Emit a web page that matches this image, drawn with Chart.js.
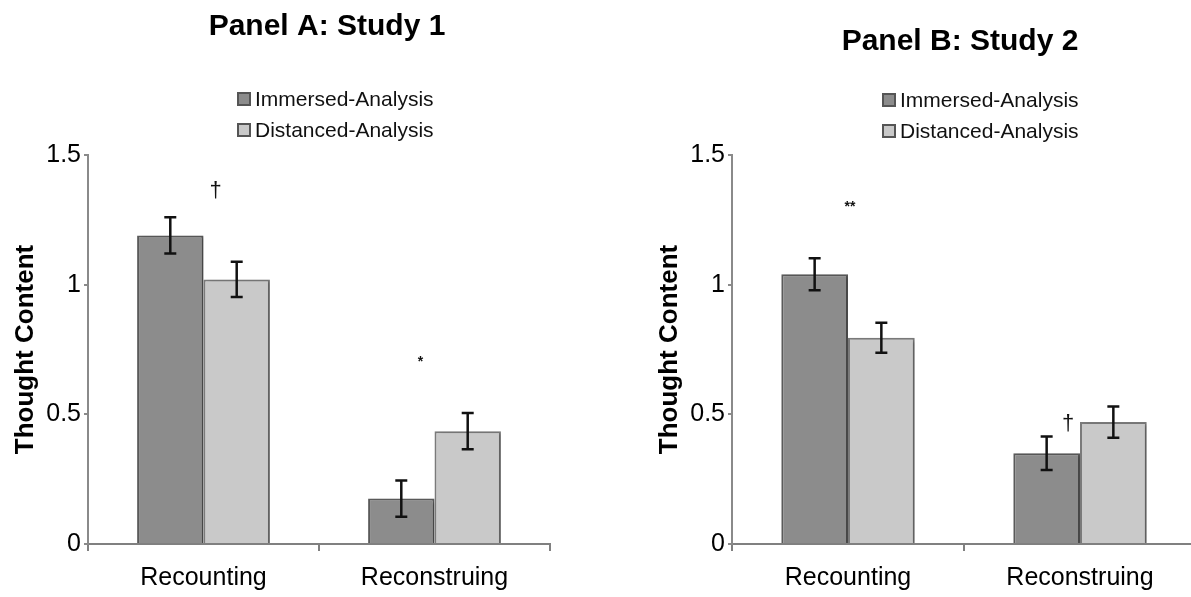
<!DOCTYPE html>
<html>
<head>
<meta charset="utf-8">
<script src="https://cdn.jsdelivr.net/npm/chart.js@4"></script>
<style>
  html, body { margin: 0; padding: 0; background: #fff; overflow: hidden; }
  #wrap { position: relative; width: 1191px; height: 597px; }
  #panelA { position: absolute; left: 0; top: 0; }
  #panelB { position: absolute; left: 595px; top: 0; }
</style>
</head>
<body>
<div id="wrap">
  <canvas id="panelA" width="595" height="597"></canvas>
  <canvas id="panelB" width="605" height="597"></canvas>
</div>
<script>
const labels = ["Recounting", "Reconstruing"];
const series_names = ["Immersed-Analysis", "Distanced-Analysis"];

const study1_immersed = [1.19, 0.175];
const study1_distanced = [1.02, 0.435];
const study1_immersed_err = [0.07, 0.07];
const study1_distanced_err = [0.068, 0.07];

const study2_immersed = [1.04, 0.35];
const study2_distanced = [0.795, 0.47];
const study2_immersed_err = [0.062, 0.065];
const study2_distanced_err = [0.058, 0.06];

const y_ticks = [0, 0.5, 1, 1.5];

// significance marks: [category index, y value, text]
const study1_marks = [[0, 1.36, "\u2020"], [1, 0.703, "*"]];
const study2_marks = [[0, 1.30, "**"], [1, 0.463, "\u2020"]];

const FONT = "'Liberation Sans', Arial, Helvetica, sans-serif";
const dark_fill = "#8c8c8c";
const light_fill = "#c9c9c9";

// draws the error bars from dataset.errors
const error_bars = {
    id: "error_bars",
    afterDatasetsDraw(chart) {
        const ctx = chart.ctx;
        const y = chart.scales.y;
        ctx.save();
        ctx.strokeStyle = "#111";
        ctx.lineWidth = 2.5;
        chart.data.datasets.forEach((ds, i) => {
            const meta = chart.getDatasetMeta(i);
            meta.data.forEach((bar, j) => {
                const v = ds.data[j];
                const e = ds.errors[j];
                const top = y.getPixelForValue(v + e);
                const bot = y.getPixelForValue(v - e);
                const x = bar.x;
                ctx.beginPath();
                ctx.moveTo(x, top); ctx.lineTo(x, bot);
                ctx.moveTo(x - 6, top); ctx.lineTo(x + 6, top);
                ctx.moveTo(x - 6, bot); ctx.lineTo(x + 6, bot);
                ctx.stroke();
            });
        });
        ctx.restore();
    }
};

// soft shadow behind the bars
const bar_shadow = {
    id: "bar_shadow",
    beforeDatasetsDraw(chart) {
        const ctx = chart.ctx;
        ctx.save();
        ctx.shadowColor = "rgba(0,0,0,0.22)";
        ctx.shadowOffsetX = 3;
        ctx.shadowOffsetY = 1;
        ctx.shadowBlur = 3;
    },
    afterDatasetsDraw(chart) {
        chart.ctx.restore();
    }
};

// significance marks above the bar pairs
const sig_marks = {
    id: "sig_marks",
    afterDraw(chart, args, opts) {
        const ctx = chart.ctx;
        const x = chart.scales.x;
        const y = chart.scales.y;
        ctx.save();
        ctx.fillStyle = "#111";
        ctx.textAlign = "center";
        ctx.textBaseline = "middle";
        opts.marks.forEach((m, k) => {
            const px = x.getPixelForValue(m[0]) + opts.dx[k];
            const py = y.getPixelForValue(m[1]);
            ctx.font = (m[2] === "\u2020" ? "22px " : "bold 14px ") + FONT;
            ctx.fillText(m[2], px, py);
        });
        ctx.restore();
    }
};

// panel heading
const panel_title = {
    id: "panel_title",
    afterDraw(chart, args, opts) {
        const ctx = chart.ctx;
        ctx.save();
        ctx.font = "bold 30px " + FONT;
        ctx.fillStyle = "#000";
        ctx.textAlign = "center";
        ctx.textBaseline = "middle";
        ctx.fillText(opts.text, opts.x, opts.y);
        ctx.restore();
    }
};

// stacked legend box
const box_legend = {
    id: "box_legend",
    afterDraw(chart, args, opts) {
        const ctx = chart.ctx;
        ctx.save();
        ctx.font = "21px " + FONT;
        ctx.textBaseline = "middle";
        chart.data.datasets.forEach((ds, i) => {
            const cy = opts.y + i * opts.gap;
            ctx.fillStyle = ds.backgroundColor;
            ctx.strokeStyle = "#555";
            ctx.lineWidth = 2;
            ctx.fillRect(opts.x, cy - 6, 12, 12);
            ctx.strokeRect(opts.x, cy - 6, 12, 12);
            ctx.fillStyle = "#111";
            ctx.fillText(ds.label, opts.x + 17, cy + 1);
        });
        ctx.restore();
    }
};

function make_panel(canvas_id, title, title_x, title_y, pad_left, pad_right, imm, imm_err, dist, dist_err, marks, mark_dx, legend_x, legend_y) {
    return new Chart(document.getElementById(canvas_id), {
        type: "bar",
        data: {
            labels: labels,
            datasets: [{
                label: series_names[0],
                data: imm,
                errors: imm_err,
                backgroundColor: dark_fill,
                borderColor: "#5a5a5a",
                borderWidth: 2
            }, {
                label: series_names[1],
                data: dist,
                errors: dist_err,
                backgroundColor: light_fill,
                borderColor: "#7a7a7a",
                borderWidth: 2
            }]
        },
        options: {
            responsive: false,
            animation: false,
            layout: { padding: { left: pad_left, right: pad_right, top: 155, bottom: 0 } },
            categoryPercentage: 0.575,
            barPercentage: 1.0,
            plugins: {
                legend: { display: false },
                tooltip: { enabled: false },
                panel_title: { text: title, x: title_x, y: title_y },
                sig_marks: { marks: marks, dx: mark_dx },
                box_legend: { x: legend_x, y: legend_y, gap: 31 }
            },
            scales: {
                x: {
                    afterFit: (s) => { s.height = 53; },
                    grid: {
                        display: true,
                        offset: true,
                        drawOnChartArea: false,
                        tickLength: 7,
                        color: "#808080",
                        lineWidth: 2
                    },
                    border: { color: "#808080", width: 2 },
                    ticks: { color: "#000", padding: 12, font: { family: FONT, size: 25 } }
                },
                y: {
                    min: 0,
                    max: 1.5,
                    afterFit: (s) => { s.width = 88; },
                    afterBuildTicks: (s) => { s.ticks = y_ticks.map(v => ({ value: v })); },
                    grid: {
                        drawOnChartArea: false,
                        tickLength: 4,
                        color: "#8a8a8a",
                        lineWidth: 2
                    },
                    border: { color: "#8a8a8a", width: 2 },
                    ticks: {
                        color: "#000",
                        padding: 3,
                        font: { family: FONT, size: 25 },
                        callback: (v) => String(v)
                    },
                    title: {
                        display: true,
                        text: "Thought Content",
                        color: "#000",
                        padding: { top: 10, bottom: 0 },
                        font: { family: FONT, size: 26, weight: "bold" }
                    }
                }
            }
        },
        plugins: [bar_shadow, error_bars, sig_marks, panel_title, box_legend]
    });
}

make_panel("panelA", "Panel A: Study 1", 327, 27, 0, 45,
    study1_immersed, study1_immersed_err, study1_distanced, study1_distanced_err,
    study1_marks, [12, -14], 238, 99);

make_panel("panelB", "Panel B: Study 2", 365, 42, 49, 4,
    study2_immersed, study2_immersed_err, study2_distanced, study2_distanced_err,
    study2_marks, [2, -12], 288, 100);
</script>
</body>
</html>
